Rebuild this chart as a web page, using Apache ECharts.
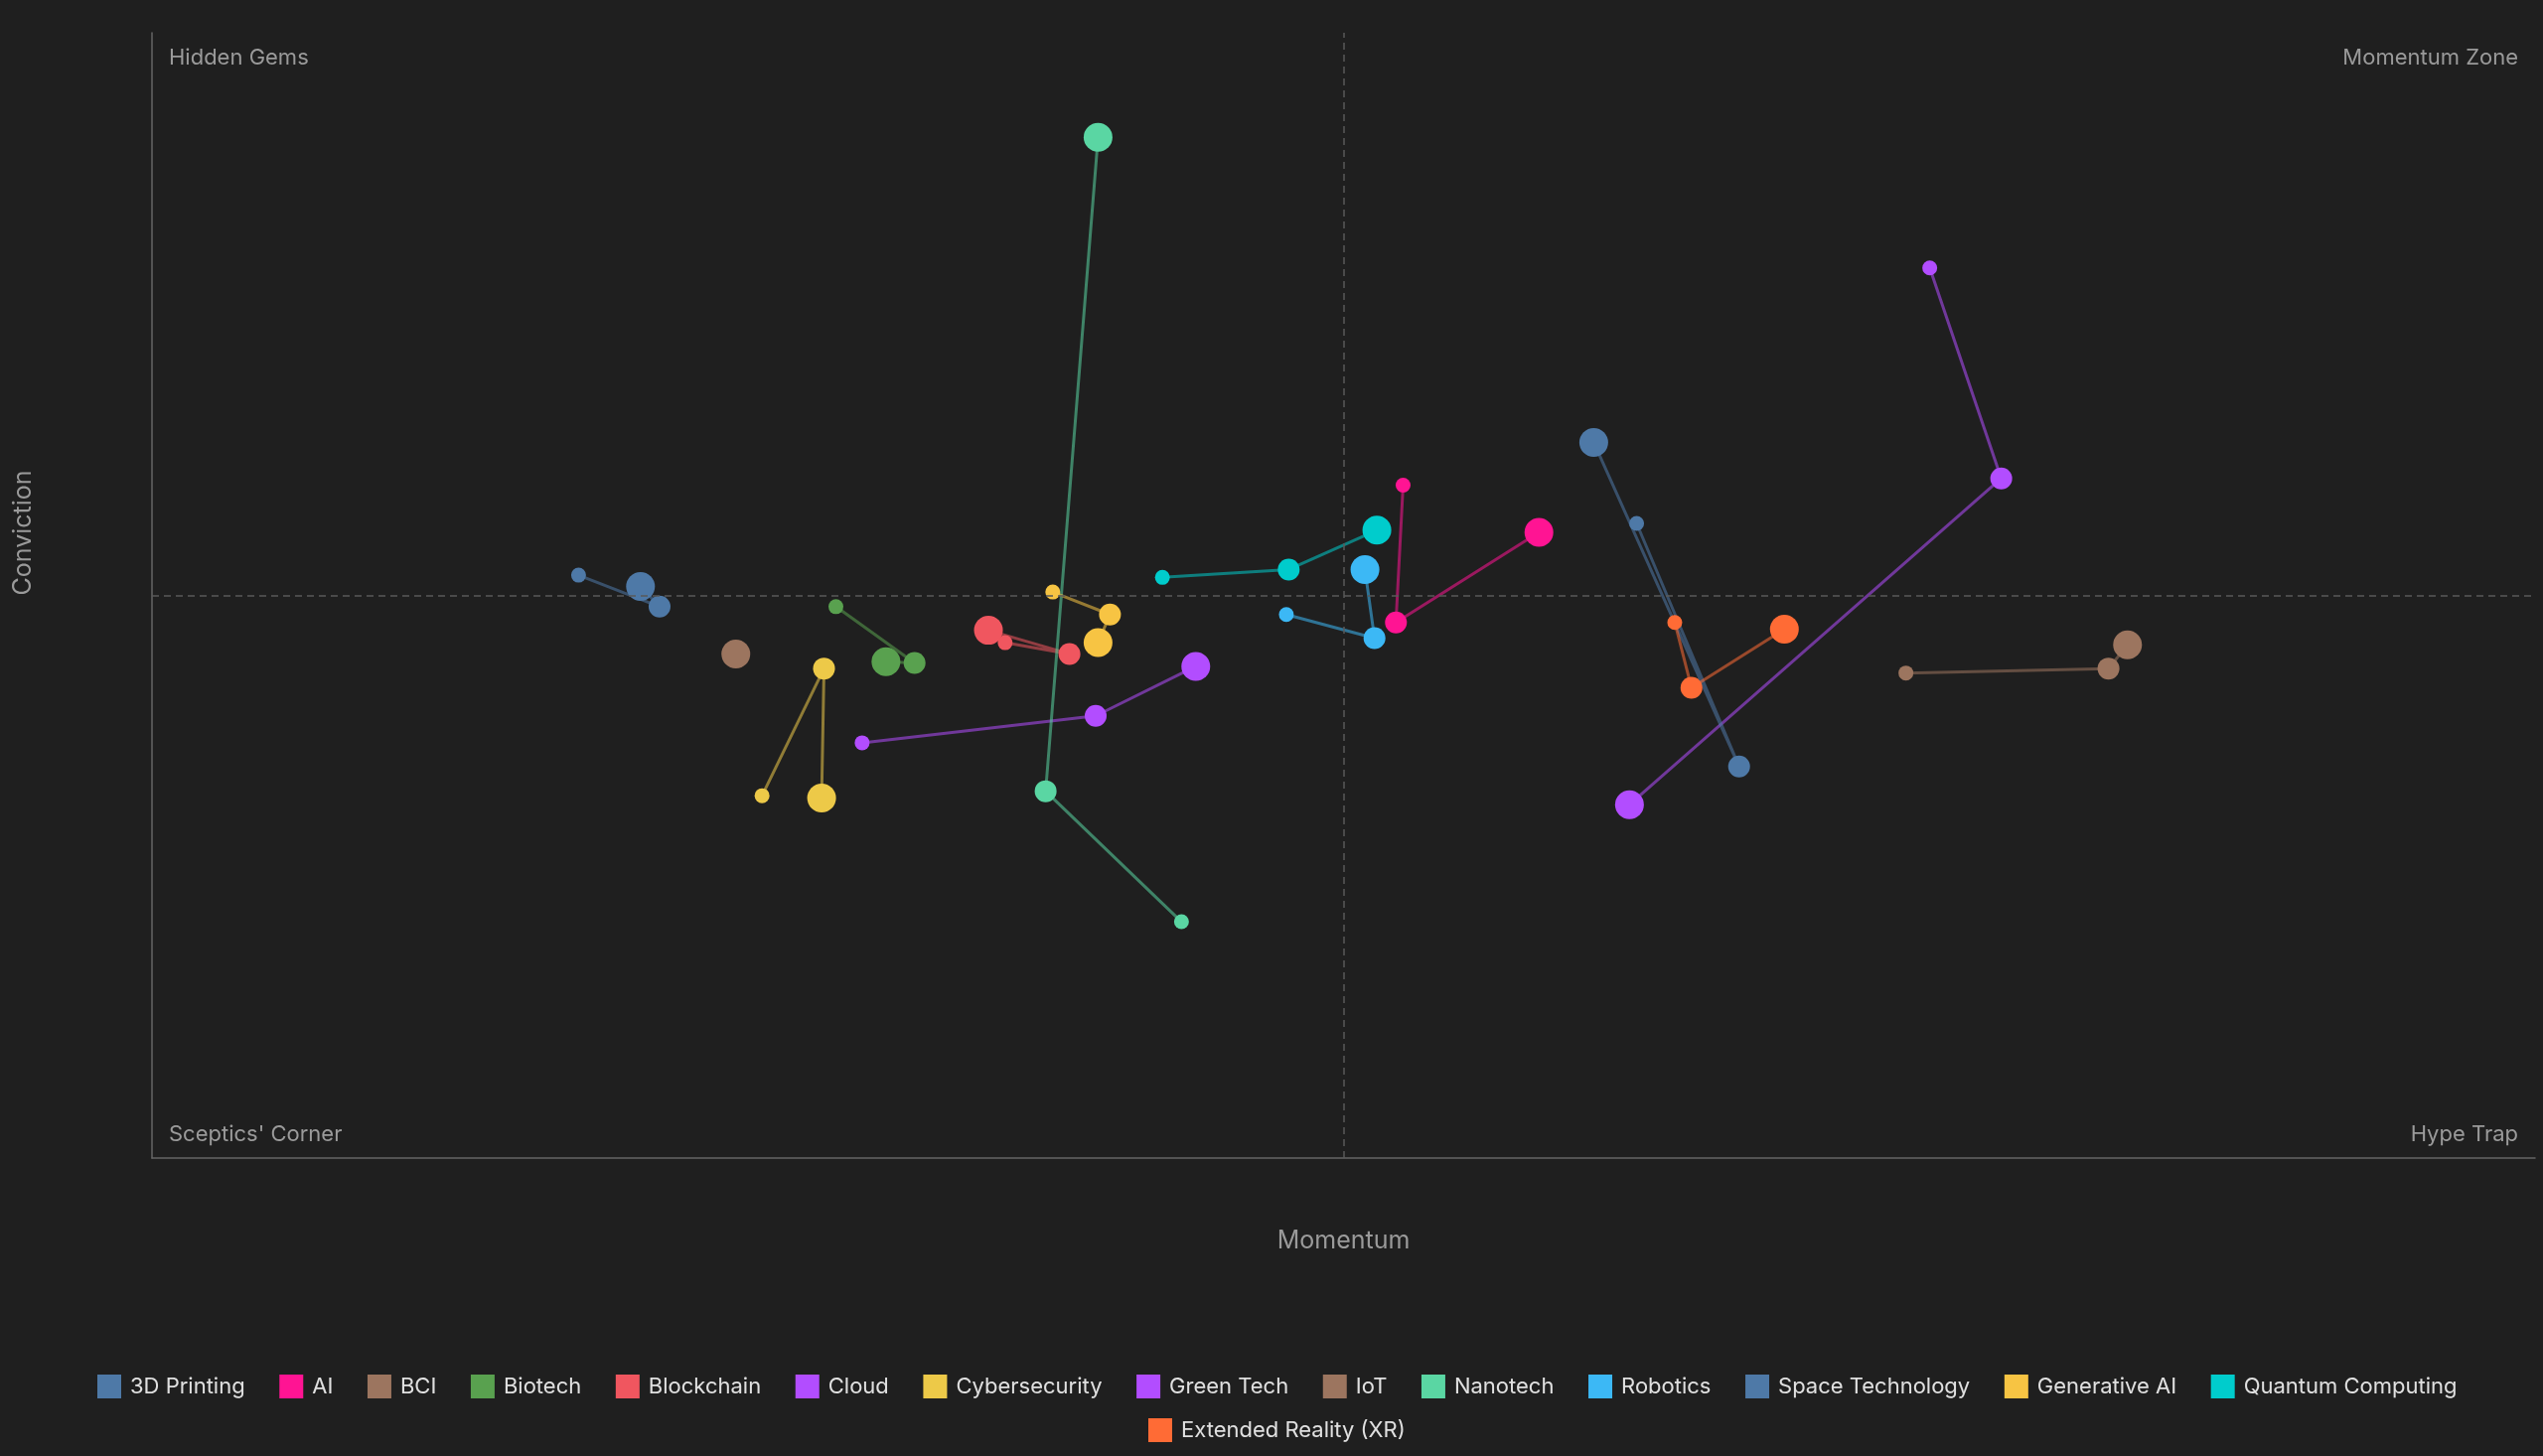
<!DOCTYPE html>
<html>
<head>
<meta charset="utf-8">
<title>Momentum vs Conviction</title>
<script src="https://cdn.jsdelivr.net/npm/echarts@6/dist/echarts.min.js"></script>
<style>
  html, body { margin: 0; padding: 0; background: #1f1f1f; }
  #main { width: 2560px; height: 1466px; }
</style>
</head>
<body>
<div id="main"></div>
<script>
// series names, in legend order
var techNames = ['3D Printing', 'AI', 'BCI', 'Biotech', 'Blockchain', 'Cloud', 'Cybersecurity',
  'Green Tech', 'IoT', 'Nanotech', 'Robotics', 'Space Technology', 'Generative AI',
  'Quantum Computing', 'Extended Reality (XR)'];

var techColors = ['#4e79a7', '#ff1493', '#9c755f', '#59a14f', '#f0565f', '#b24dff', '#edc948',
  '#b24dff', '#9c755f', '#5ad6a3', '#3cb8f5', '#4e79a7', '#f7c443', '#00cccc', '#ff6b35'];

// trails: [momentum, conviction], oldest first
var printing3D   = [[17.9, 51.8], [21.3, 49.0], [20.5, 50.8]];
var ai           = [[52.5, 59.8], [52.2, 47.6], [58.2, 55.6]];
var bci          = [[24.5, 44.8]];
var biotech      = [[28.7, 49.0], [32.0, 44.0], [30.8, 44.1]];
var blockchain   = [[35.8, 45.8], [38.5, 44.8], [35.1, 46.9]];
var cloud        = [[29.8, 36.9], [39.6, 39.3], [43.8, 43.7]];
var cybersec     = [[25.6, 32.2], [28.2, 43.5], [28.1, 32.0]];
var greenTech    = [[74.6, 79.1], [77.6, 60.4], [62.0, 31.4]];
var iot          = [[73.6, 43.1], [82.1, 43.5], [82.9, 45.6]];
var nanotech     = [[43.2, 21.0], [37.5, 32.6], [39.7, 90.7]];
var robotics     = [[47.6, 48.3], [51.3, 46.2], [50.9, 52.3]];
var spaceTech    = [[62.3, 56.4], [66.6, 34.8], [60.5, 63.6]];
var genAI        = [[37.8, 50.3], [40.2, 48.3], [39.7, 45.8]];
var quantum      = [[42.4, 51.6], [47.7, 52.3], [51.4, 55.8]];
var xr           = [[63.9, 47.6], [64.6, 41.8], [68.5, 47.0]];

var trails = [printing3D, ai, bci, biotech, blockchain, cloud, cybersec, greenTech, iot,
  nanotech, robotics, spaceTech, genAI, quantum, xr];

// quadrant corner labels
var quadrantLabels = ['Hidden Gems', 'Momentum Zone', "Sceptics' Corner", 'Hype Trap'];

var periodSizes = [15, 22, 29];
var txt = '#9a9a9a';
var font = 'Inter, "Noto Sans", sans-serif';

var myChart = echarts.init(document.getElementById('main'));

var series = [{
  // quadrant dividers
  name: 'quadrants',
  type: 'line',
  data: [],
  silent: true,
  markLine: {
    silent: true,
    symbol: 'none',
    label: { show: false },
    lineStyle: { color: '#5a5a5a', width: 1.5, type: [7, 5] },
    data: [{ xAxis: 50 }, { yAxis: 50 }]
  }
}];

techNames.forEach(function (name, i) {
  var pts = trails[i];
  series.push({
    name: name,
    type: 'line',
    data: pts,
    symbol: 'circle',
    symbolSize: function (val, params) {
      return periodSizes[periodSizes.length - (pts.length - params.dataIndex)];
    },
    showSymbol: true,
    color: techColors[i],
    itemStyle: { color: techColors[i], opacity: 1 },
    lineStyle: { color: techColors[i], width: 3, opacity: 0.55 },
    emphasis: { disabled: true },
    animation: false
  });
});

var legendText = { color: '#e0e0e0', fontSize: 22, fontFamily: font, padding: [0, 0, 0, 4] };

var option = {
  backgroundColor: '#1f1f1f',
  textStyle: { fontFamily: font },
  grid: { left: 153, right: 8, top: 33, bottom: 300 },
  xAxis: {
    type: 'value', min: 0, max: 100,
    name: 'Momentum', nameLocation: 'middle', nameGap: 71,
    nameTextStyle: { color: txt, fontSize: 25, fontFamily: font },
    axisLine: { show: true, lineStyle: { color: '#666666', width: 1.5 } },
    axisTick: { show: false }, axisLabel: { show: false }, splitLine: { show: false }
  },
  yAxis: {
    type: 'value', min: 0, max: 100,
    name: 'Conviction', nameLocation: 'middle', nameGap: 117,
    nameTextStyle: { color: txt, fontSize: 25, fontFamily: font, align: 'left' },
    axisLine: { show: true, lineStyle: { color: '#666666', width: 1.5 } },
    axisTick: { show: false }, axisLabel: { show: false }, splitLine: { show: false }
  },
  legend: [{
    data: techNames.slice(0, 14),
    top: 1379, left: 93,
    icon: 'rect', itemWidth: 24, itemHeight: 24, itemGap: 34.6,
    textStyle: legendText
  }, {
    data: techNames.slice(14),
    top: 1423, left: 1151,
    icon: 'rect', itemWidth: 24, itemHeight: 24, itemGap: 34.6,
    textStyle: legendText
  }],
  graphic: [
    { type: 'text', x: 170, y: 58, style: { text: quadrantLabels[0], fill: txt, font: '22px ' + font, align: 'left', verticalAlign: 'middle' } },
    { type: 'text', x: 2535, y: 58, style: { text: quadrantLabels[1], fill: txt, font: '22px ' + font, align: 'right', verticalAlign: 'middle' } },
    { type: 'text', x: 170, y: 1142, style: { text: quadrantLabels[2], fill: txt, font: '22px ' + font, align: 'left', verticalAlign: 'middle' } },
    { type: 'text', x: 2535, y: 1142, style: { text: quadrantLabels[3], fill: txt, font: '22px ' + font, align: 'right', verticalAlign: 'middle' } }
  ],
  series: series
};

myChart.setOption(option);
</script>
</body>
</html>
